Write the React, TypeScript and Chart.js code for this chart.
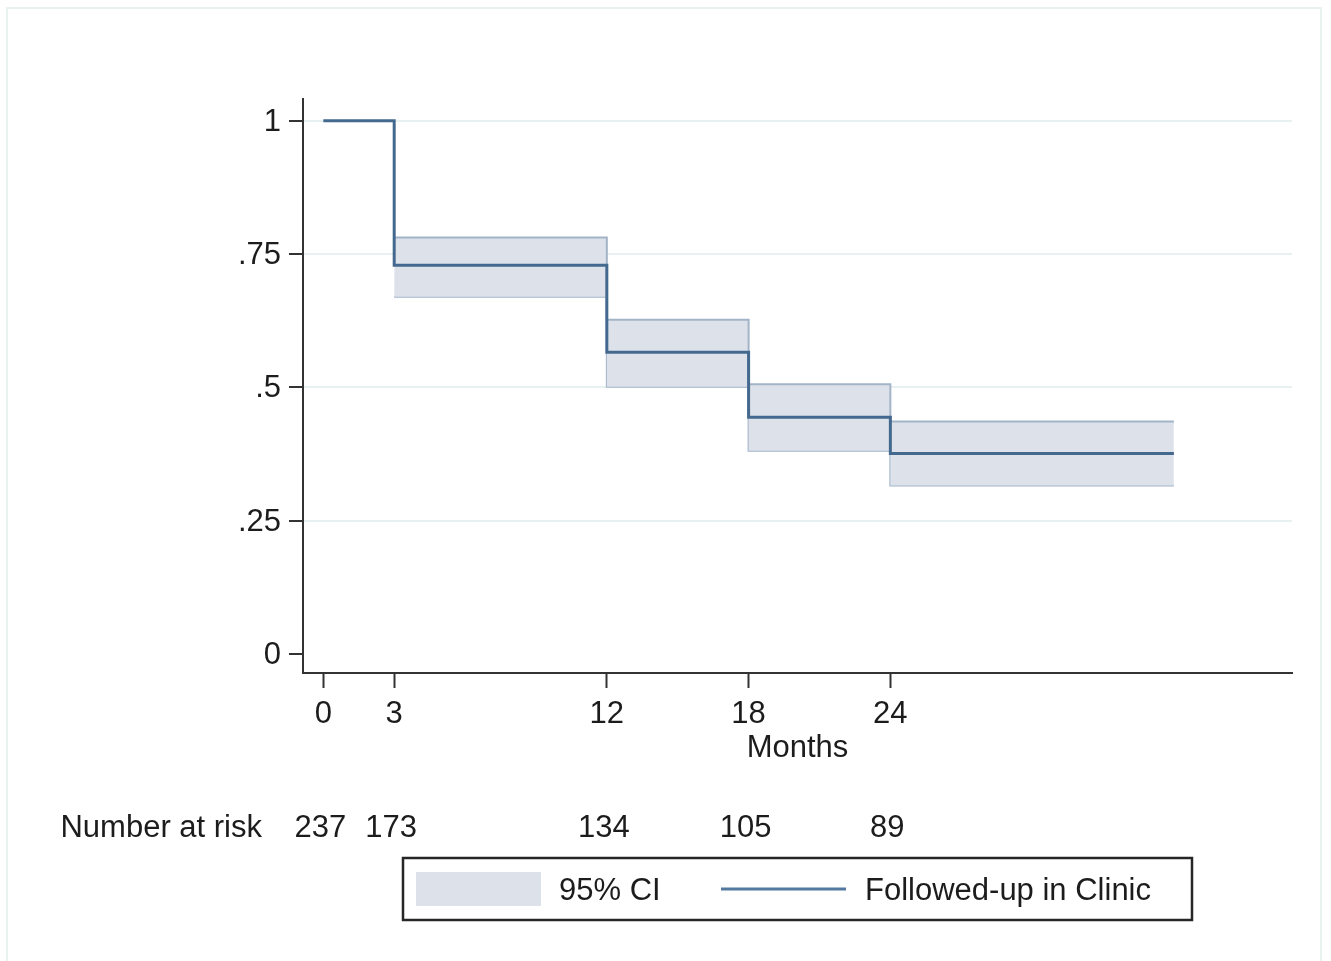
import React, { useEffect, useRef } from "react";
import { Chart, registerables } from "chart.js";

Chart.register(...registerables);

// ---- data ----
const kmMonths = [0, 3, 12, 18, 24, 36];
const kmSurvival = [1, 0.729, 0.566, 0.444, 0.376, 0.376];
const ciMonths = [3, 12, 18, 24, 36];
const ciUpper = [0.781, 0.627, 0.506, 0.436, 0.436];
const ciLower = [0.67, 0.501, 0.381, 0.316, 0.316];
const xTicks = [0, 3, 12, 18, 24];
const yTicks = [0, 0.25, 0.5, 0.75, 1];
const yTickLabels = ["0", ".25", ".5", ".75", "1"];
const riskMonths = [0, 3, 12, 18, 24];
const numberAtRisk = [237, 173, 134, 105, 89];
const seriesLabel = "Followed-up in Clinic";
const ciLabel = "95% CI";
const xTitle = "Months";
const riskTitle = "Number at risk";

const FONT = '"Liberation Sans", Arial, Helvetica, sans-serif';
const FS = 31;
const TEXT = "#1c1c1c";
const AXIS = "#333333";
const LINE = "#44698f";
const CI_FILL = "#dde2ea";
const CI_EDGE = "#a3b4c8";
const GRID = "#e8f0f1";

const W = 1331;
const H = 961;

const riskAndLegend = {
  id: "riskAndLegend",
  afterDraw(chart: any) {
    const { ctx, chartArea } = chart;
    const xs = chart.scales.x;
    ctx.save();
    ctx.font = `${FS}px ${FONT}`;
    ctx.fillStyle = TEXT;
    ctx.textBaseline = "middle";
    // number at risk row
    const ry = chartArea.bottom + 155;
    ctx.textAlign = "center";
    riskMonths.forEach((m, i) => {
      ctx.fillText(String(numberAtRisk[i]), xs.getPixelForValue(m) - 3, ry);
    });
    ctx.textAlign = "right";
    ctx.fillText(riskTitle, chartArea.left - 41, ry);

    // legend box
    const bw = 789;
    const bh = 62;
    const cx = (chartArea.left + chartArea.right) / 2;
    const bl = cx - bw / 2;
    const bt = chartArea.bottom + 185;
    ctx.strokeStyle = "#262626";
    ctx.lineWidth = 2.5;
    ctx.strokeRect(bl, bt, bw, bh);
    ctx.fillStyle = CI_FILL;
    ctx.fillRect(bl + 13, bt + 14, 125, 34);
    ctx.fillStyle = TEXT;
    ctx.textAlign = "left";
    ctx.fillText(ciLabel, bl + 156, bt + 33);
    ctx.strokeStyle = "#5479a0";
    ctx.lineWidth = 3;
    ctx.beginPath();
    ctx.moveTo(bl + 318, bt + 31);
    ctx.lineTo(bl + 443, bt + 31);
    ctx.stroke();
    ctx.fillText(seriesLabel, bl + 462, bt + 33);
    ctx.restore();
  },
};

export default function App() {
  const ref = useRef<HTMLCanvasElement | null>(null);

  useEffect(() => {
    if (!ref.current) return;
    const chart = new Chart(ref.current, {
      type: "line",
      data: {
        datasets: [
          {
            label: "ci-upper",
            data: ciMonths.map((x, i) => ({ x, y: ciUpper[i] })),
            stepped: "before",
            borderColor: CI_EDGE,
            borderWidth: 2,
            backgroundColor: CI_FILL,
            fill: "+1",
            pointRadius: 0,
            order: 2,
          },
          {
            label: "ci-lower",
            data: ciMonths.map((x, i) => ({ x, y: ciLower[i] })),
            stepped: "before",
            borderColor: CI_EDGE,
            borderWidth: 2,
            fill: false,
            pointRadius: 0,
            order: 2,
          },
          {
            label: seriesLabel,
            data: kmMonths.map((x, i) => ({ x, y: kmSurvival[i] })),
            stepped: "before",
            borderColor: LINE,
            borderWidth: 3,
            fill: false,
            pointRadius: 0,
            order: 1,
          },
        ],
      } as any,
      options: {
        responsive: false,
        animation: false,
        layout: { padding: { left: 0, right: 39, top: 99, bottom: 188 } },
        plugins: {
          legend: { display: false },
          tooltip: { enabled: false },
        },
        scales: {
          x: {
            type: "linear",
            min: -0.86,
            max: 41,
            afterBuildTicks: (s: any) => {
              s.ticks = xTicks.map((v) => ({ value: v }));
            },
            afterFit: (s: any) => {
              s.height = 100;
            },
            ticks: {
              autoSkip: false,
              maxRotation: 0,
              padding: 8,
              color: TEXT,
              font: { family: FONT, size: FS },
              callback: (v: any) => String(v),
            },
            grid: {
              drawOnChartArea: false,
              drawTicks: true,
              tickLength: 15,
              tickColor: AXIS,
              tickWidth: 2,
            },
            border: { display: true, color: AXIS, width: 2 },
            title: {
              display: true,
              text: xTitle,
              color: TEXT,
              font: { family: FONT, size: FS },
              padding: { top: 0, bottom: 6 },
            },
          },
          y: {
            type: "linear",
            min: -0.036,
            max: 1.041,
            afterBuildTicks: (s: any) => {
              s.ticks = yTicks.map((v) => ({ value: v }));
            },
            afterFit: (s: any) => {
              s.width = 303;
            },
            ticks: {
              autoSkip: false,
              padding: 8,
              labelOffset: 1.5,
              color: TEXT,
              font: { family: FONT, size: FS },
              callback: (v: any) => {
                const i = yTicks.indexOf(Number(v));
                return i >= 0 ? yTickLabels[i] : "";
              },
            },
            grid: {
              color: (c: any) =>
                c.tick && c.tick.value === 0 ? "rgba(0,0,0,0)" : GRID,
              lineWidth: 2,
              drawTicks: true,
              tickLength: 14,
              tickColor: AXIS,
              tickWidth: 2,
            },
            border: { display: true, color: AXIS, width: 2 },
          },
        },
      } as any,
      plugins: [riskAndLegend],
    });
    return () => chart.destroy();
  }, []);

  return (
    <div
      style={{
        position: "absolute",
        left: 0,
        top: 0,
        width: W,
        height: H,
        overflow: "hidden",
        background: "#ffffff",
      }}
    >
      <div
        style={{
          position: "absolute",
          left: 6,
          top: 7,
          width: 1316,
          height: 1000,
          border: "2px solid #e9f1f1",
          boxSizing: "border-box",
        }}
      />
      <canvas
        ref={ref}
        width={W}
        height={H}
        style={{ position: "absolute", left: 0, top: 0, width: W, height: H }}
      />
    </div>
  );
}
